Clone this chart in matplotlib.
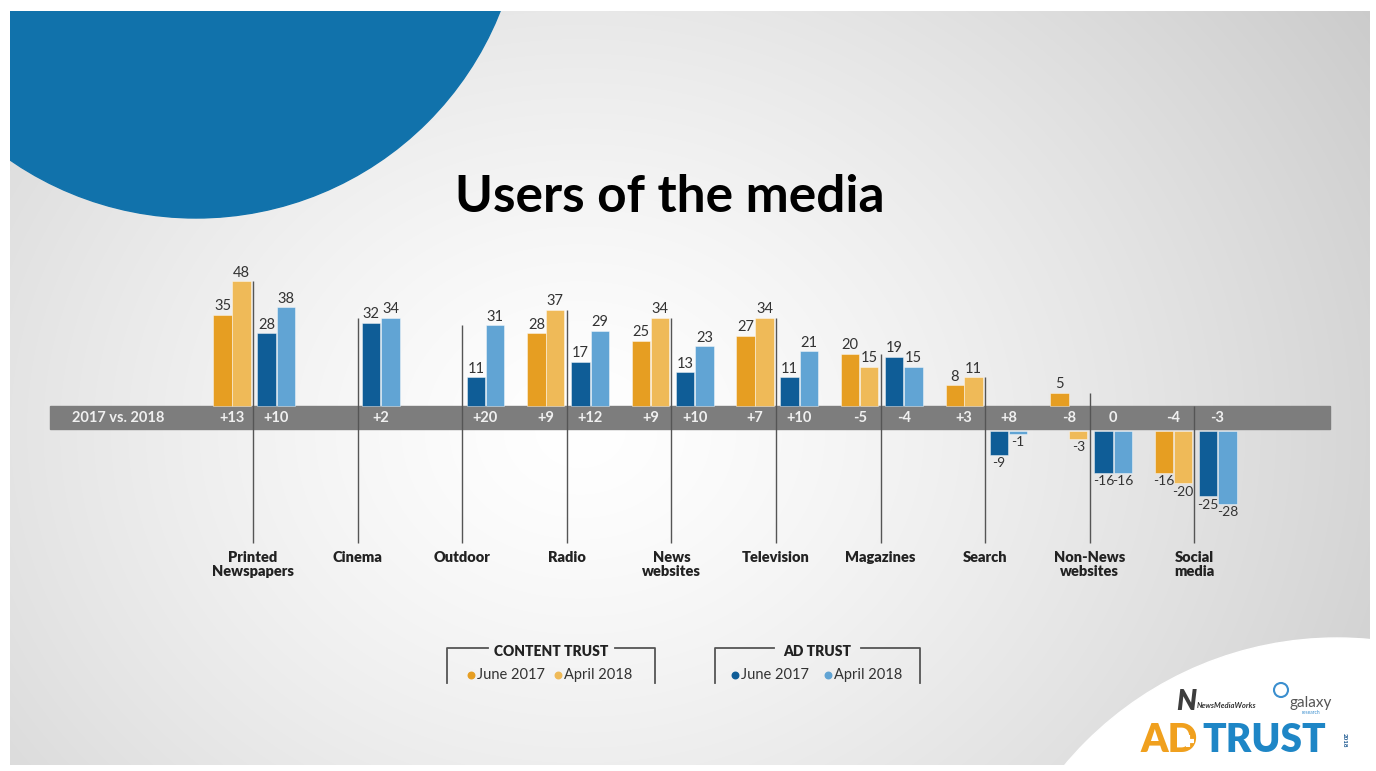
import numpy as np
import matplotlib
matplotlib.use("Agg")
import matplotlib.pyplot as plt
from matplotlib.patches import Circle, Rectangle

plt.rcParams['font.family'] = ['Lato', 'DejaVu Sans']

# ---------------- data ----------------
categories = ["Printed\nNewspapers", "Cinema", "Outdoor", "Radio", "News\nwebsites",
              "Television", "Magazines", "Search", "Non-News\nwebsites", "Social\nmedia"]
content_jun17 = [35, np.nan, np.nan, 28, 25, 27, 20, 8, 5, -16]
content_apr18 = [48, np.nan, np.nan, 37, 34, 34, 15, 11, -3, -20]
ad_jun17 = [28, 32, 11, 17, 13, 11, 19, -9, -16, -25]
ad_apr18 = [38, 34, 31, 29, 23, 21, 15, -1, -16, -28]
series_labels = ["June 2017", "April 2018"]
band_label = "2017 vs. 2018"
title = "Users of the media"

# ---------------- style ----------------
c_content = ['#E69E22', '#EFBA58']
c_ad = ['#0F5D97', '#61A4D4']
W, H = 1376, 771
PX = 2.6          # pixels per data unit
BASE = 406        # pixel row of the zero line
X0, DX = 253, 104.6  # pixel position of first divider, spacing
GAP = 9.7         # offset of negative bars below band
BAND = 8.9

fig = plt.figure(figsize=(W / 100, H / 100), dpi=100, facecolor='white')

# background layer in pixel coordinates
bg = fig.add_axes([0, 0, 1, 1])
bg.set_xlim(0, W)
bg.set_ylim(H, 0)
bg.axis('off')
sl, sr, st, sb = 10, 1370, 11, 765
yy, xx = np.mgrid[st:sb, sl:sr]
d = np.hypot(xx - 580, (yy - 430) * 1.2)
v = 1.0 - 0.17 * np.clip(d / 820, 0, 1.2) ** 1.3
img = np.dstack([v, v, v])
bg.imshow(img, extent=(sl, sr, sb, st), origin='upper', aspect='auto', zorder=0,
          interpolation='bilinear')
clip = Rectangle((sl, st), sr - sl, sb - st, transform=bg.transData, visible=False)
bg.add_patch(clip)
blue = Circle((196, -109), 327, color='#1172AB', zorder=1)
bg.add_patch(blue)
blue.set_clip_path(clip)
white = Circle((1337, 993), 355, color='white', zorder=1)
bg.add_patch(white)
white.set_clip_path(clip)
bg.set_xlim(0, W)
bg.set_ylim(H, 0)

bg.text(670, 197, title, fontsize=37, fontweight='bold', ha='center', va='center',
        color='black', zorder=3)

# ---------------- bars ----------------
top_px, bot_px = 250, 545
ax = fig.add_axes([0, (H - bot_px) / H, 1, (bot_px - top_px) / H])
ax.set_xlim((0 - X0) / DX, (W - X0) / DX)
ax.set_ylim(-(bot_px - BASE) / PX, (BASE - top_px) / PX)
ax.axis('off')
ax.patch.set_visible(False)

n = len(categories)
idx = np.arange(n)
offsets = [-0.29, -0.11, 0.13, 0.315]
bw = 0.176
series = [(content_jun17, c_content[0]), (content_apr18, c_content[1]),
          (ad_jun17, c_ad[0]), (ad_apr18, c_ad[1])]

band_l, band_r = (50 - X0) / DX, (1330 - X0) / DX
ax.add_patch(Rectangle((band_l, -BAND), band_r - band_l, BAND, color='#7d7d7d', zorder=2))

for (vals, col), off in zip(series, offsets):
    vals = np.asarray(vals, dtype=float)
    ok = ~np.isnan(vals)
    xs = idx[ok] + off
    vv = vals[ok]
    bottoms = np.where(vv < 0, -GAP, 0)
    ax.bar(xs, vv, bw, bottom=bottoms, color=col, edgecolor=(1, 1, 1, 0.5),
           linewidth=0.6, zorder=3)
    for x, val, b in zip(xs, vv, bottoms):
        if val >= 0:
            ax.text(x, val + 0.6, f"{val:g}", ha='center', va='bottom', fontsize=10.5,
                    color='#333333', zorder=4)
        else:
            ax.text(x, b + val - 0.9, f"{val:g}", ha='center', va='top', fontsize=10,
                    color='#333333', zorder=4)

# divider lines and category labels
for i, lab in enumerate(categories):
    vals = [content_jun17[i], content_apr18[i], ad_jun17[i], ad_apr18[i]]
    top = max(0, np.nanmax(vals))
    ax.vlines(i, -52.5, top, color='#555555', lw=1.0, zorder=5)
    ax.text(i, -55.8, lab, ha='center', va='top', fontsize=10.5, fontweight='heavy',
            color='#222222', linespacing=1.05, zorder=5)

# change labels in band
def fmt(dv):
    return "0" if dv == 0 else f"{dv:+g}"

for i in range(n):
    for a, b, pos in [(content_jun17[i], content_apr18[i], -0.2),
                      (ad_jun17[i], ad_apr18[i], 0.222)]:
        if np.isnan(a) or np.isnan(b):
            continue
        ax.text(i + pos, -BAND / 2 - 0.2, fmt(b - a), ha='center', va='center',
                fontsize=10.5, fontweight='bold', color='#f0f0f0', zorder=4)
ax.text((118 - X0) / DX, -BAND / 2 - 0.2, band_label, ha='center', va='center',
        fontsize=10.5, fontweight='bold', color='#f0f0f0', zorder=4)

# ---------------- legend ----------------
def bracket(x1, x2, g1, g2, name, cols, dots):
    kw = dict(color='#555555', lw=1.3, zorder=4)
    bg.plot([x1, x1, g1], [683, 648, 648], **kw)
    bg.plot([g2, x2, x2], [648, 648, 683], **kw)
    bg.text((x1 + x2) / 2, 651, name, ha='center', va='center', fontsize=10,
            fontweight='heavy', color='#222222', zorder=4)
    for (dx, c, lab) in zip(dots, cols, series_labels):
        bg.scatter([dx], [675], s=22, color=c, zorder=4)
        bg.text(dx + 6, 675, lab, ha='left', va='center', fontsize=10.5,
                color='#333333', zorder=4)

bracket(447, 655, 488, 615, "CONTENT TRUST", c_content, [471, 558])
bracket(715, 920, 774, 861, "AD TRUST", c_ad, [735, 828])

# ---------------- logo ----------------
bg.text(1186, 702, "N", fontsize=20, fontweight='heavy', fontstyle='italic',
        color='#3d3d3d', ha='center', va='center', zorder=4)
bg.text(1197, 706, "NewsMediaWorks", fontsize=5.5, fontweight='bold', fontstyle='italic',
        color='#333333', ha='left', va='center', zorder=4)
bg.add_patch(Circle((1281, 690), 7, fill=False, ec='#3b8fcf', lw=1.5, zorder=4))
bg.text(1289, 703, "galaxy", fontsize=11, color='#555555', ha='left', va='center', zorder=4)
bg.text(1311, 713, "research", fontsize=3.5, color='#3b8fcf', ha='center', va='center', zorder=4)
bg.text(1141, 740, "AD", fontsize=28, fontweight='heavy', color='#F0A01E',
        ha='left', va='center', zorder=4)
# white plus on the D
bg.plot([1182, 1194], [741, 741], color='white', lw=3, solid_capstyle='butt', zorder=5)
bg.plot([1188, 1188], [735, 747], color='white', lw=3, solid_capstyle='butt', zorder=5)
bg.text(1202, 740, "TRUST", fontsize=28, fontweight='heavy', color='#1E86C6',
        ha='left', va='center', zorder=4)
bg.text(1344, 740, "2018", fontsize=4.5, fontweight='bold', color='#0F4F8A',
        rotation=270, ha='center', va='center', zorder=4)

fig.savefig("out.png", dpi=100, facecolor='white')
